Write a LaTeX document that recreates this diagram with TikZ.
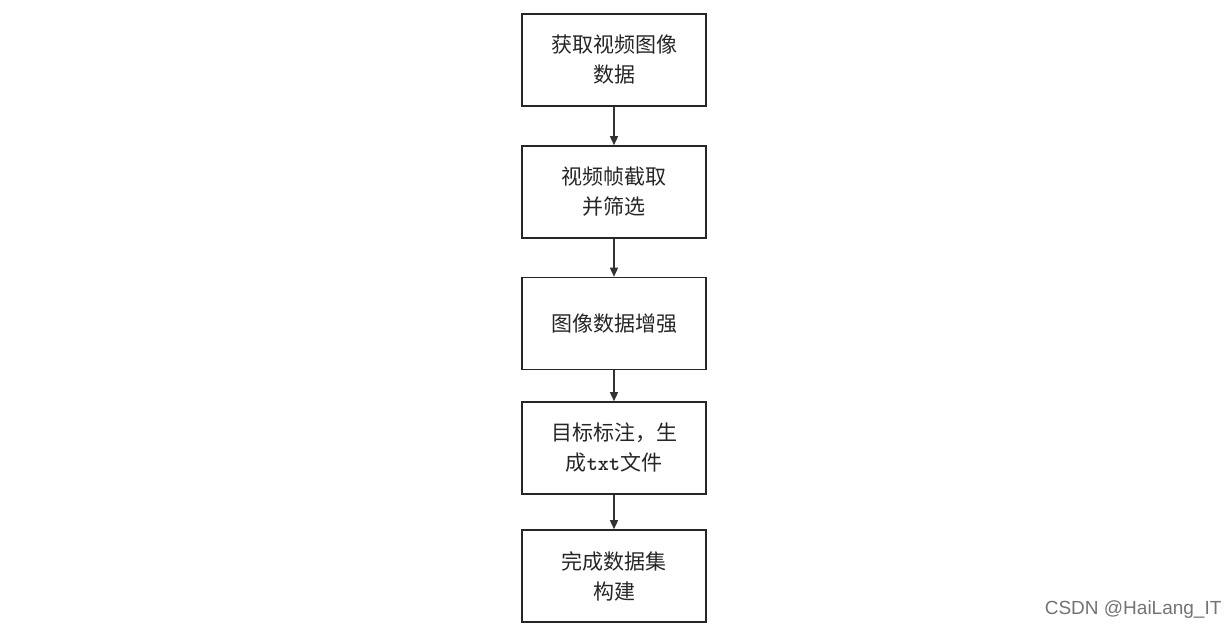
\documentclass[tikz,border=0pt]{standalone}
\usepackage{fontspec}
\newfontfamily\cjk{Noto Sans CJK SC}
\setmainfont{Liberation Sans}
\usetikzlibrary{arrows.meta}
\begin{document}
\begin{tikzpicture}[x=1pt,y=-1pt,
  box/.style={draw=black!85,line width=1.6pt,minimum width=184pt,minimum height=92pt,align=center,font=\cjk\fontsize{21}{30}\selectfont,text=black!85},
  arr/.style={draw=black!80,line width=1.4pt,-{Triangle[length=9pt,width=8pt]}}]
\useasboundingbox (0,0) rectangle (1229,630);
\node[box] (a) at (614,60) {获取视频图像\\数据};
\node[box] (b) at (614,192) {视频帧截取\\并筛选};
\node[box] (c) at (614,323.5) {图像数据增强};
\node[box] (d) at (614,448) {目标标注，生\\成{\ttfamily\bfseries txt}文件};
\node[box] (e) at (614,576) {完成数据集\\构建};
\draw[arr] (a) -- (b);
\draw[arr] (b) -- (c);
\draw[arr] (c) -- (d);
\draw[arr] (d) -- (e);
\node[font=\fontsize{19}{22}\selectfont,text=black!55,anchor=east] (w) at (1225,610) {CSDN @HaiLang\_IT};
\end{tikzpicture}
\end{document}
